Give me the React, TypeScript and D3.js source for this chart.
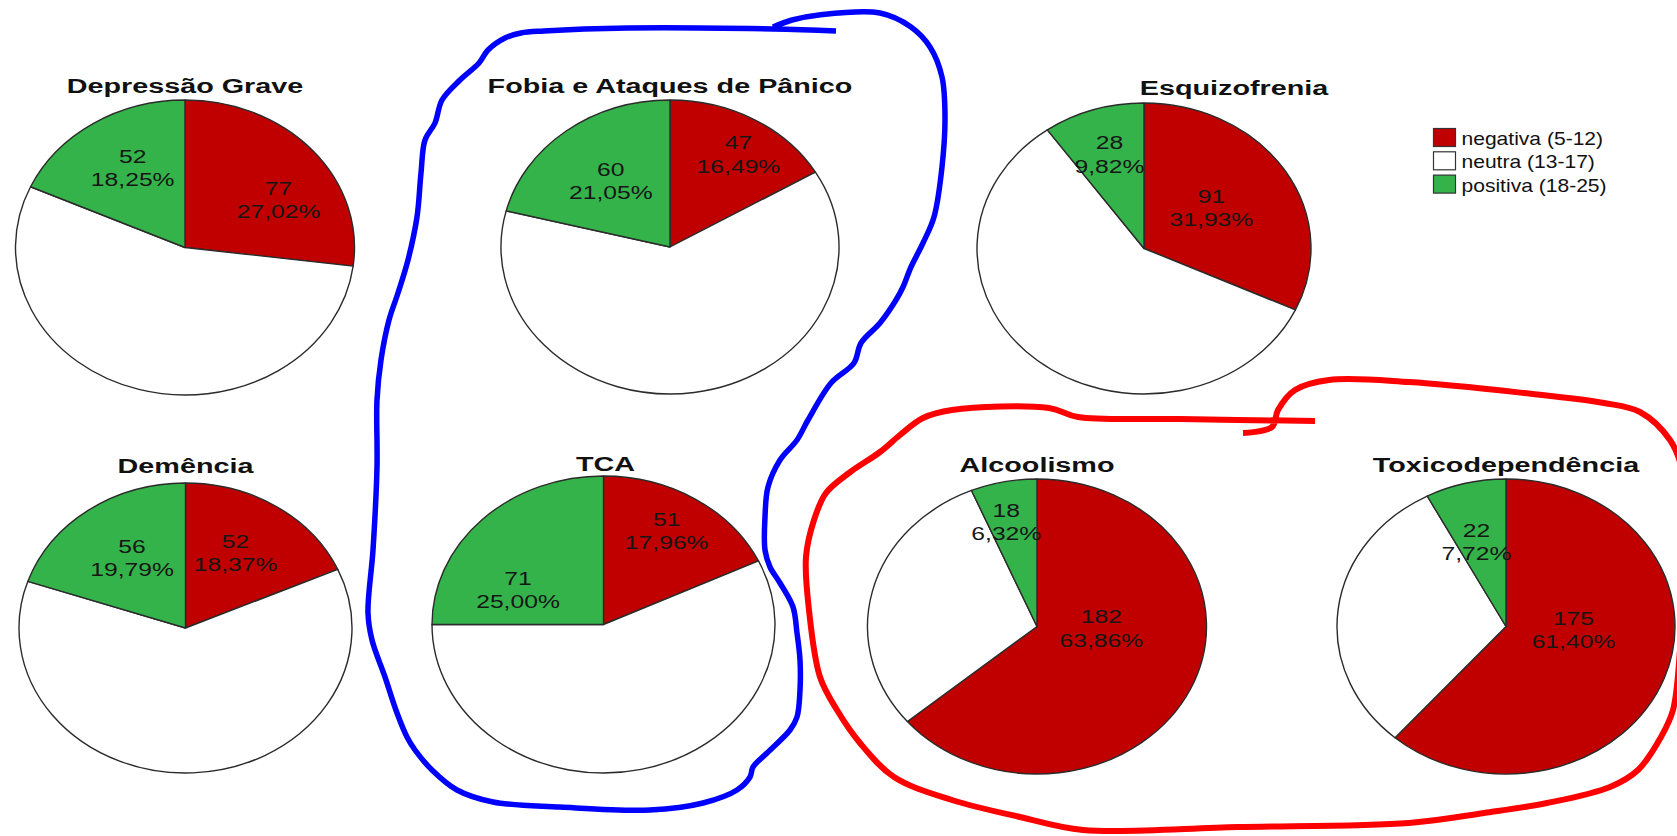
import React from 'react';
import * as d3 from 'd3';

// ---------- data ----------
const categories = ['negativa (5-12)', 'neutra (13-17)', 'positiva (18-25)'];
const sliceColors = ['#c00000', '#ffffff', '#34b34a'];
const titles = ['Depressão Grave', 'Fobia e Ataques de Pânico', 'Esquizofrenia', 'Demência', 'TCA', 'Alcoolismo', 'Toxicodependência'];
const negativa = [77, 47, 91, 52, 51, 182, 175];
const neutra = [156, 178, 166, 175, 162, 85, 88];
const positiva = [52, 60, 28, 56, 71, 18, 22];

// ---------- layout (not data) ----------
const pieCx = [185, 670, 1144, 185.5, 603.5, 1037, 1506];
const pieCy = [247.5, 247, 248.5, 628, 624.5, 626.5, 626.5];
const pieRx = [169.5, 169, 167, 166.5, 171.5, 169.5, 169];
const pieRy = [147.5, 147, 145.5, 145, 148.5, 147.5, 147.5];
const titleShift = [0, 0, 90, 0, 2, 0, 0];
const titleBase = [93, 93, 95, 473, 471, 472, 472];
const labelRadiusNeg = [0.64, 0.75, 0.49, 0.6, 0.73, 0.38, 0.4];
const labelTurnNeg = [11, 3, -2, -3, -2, -23, -17];
const labelRadiusPos = [0.62, 0.57, 0.68, 0.58, 0.55, 0.73, 0.6];
const labelTurnPos = [3, 0, 0, 2, -20, -3, -3];

// hand-drawn annotation loops (decoration)
const blueLoop: [number, number][] = [
  [836, 31], [773, 29], [628, 28], [544, 31], [521, 33], [505, 38], [488, 50], [479, 63], [460, 80], [442, 100],
  [435, 123], [425, 140], [421, 173], [417, 217], [408, 260], [398, 293], [389, 320], [381, 360], [377, 400],
  [377, 467], [373, 550], [368, 613], [372, 640], [385, 677], [397, 713], [407, 737], [415, 750], [432, 770],
  [457, 790], [493, 802], [560, 807], [650, 810], [703, 803], [737, 790], [750, 777], [753, 767], [767, 753],
  [790, 730], [797, 717], [800, 690], [800, 660], [797, 633], [793, 607], [780, 583], [770, 567], [765, 550],
  [765, 517], [768, 487], [780, 460], [797, 440], [808, 420], [831, 383], [854, 363], [861, 343], [880, 323],
  [896, 300], [903, 287], [911, 267], [923, 243], [934, 217], [942, 167], [945, 117], [942, 77], [930, 47],
  [911, 27], [880, 13], [819, 15], [792, 20], [773, 27],
];
const redLoop: [number, number][] = [
  [1315, 421], [1180, 419], [1078, 417], [1049, 408], [952, 410], [923, 418], [900, 435], [880, 452], [849, 473],
  [826, 493], [814, 520], [806, 557], [809, 610], [820, 677], [837, 710], [860, 743], [894, 777], [952, 800],
  [1020, 817], [1083, 830], [1238, 827], [1409, 823], [1484, 813], [1547, 803], [1610, 787], [1638, 770],
  [1661, 737], [1673, 710], [1680, 650], [1685, 550], [1682, 470], [1670, 440], [1640, 412], [1604, 403],
  [1524, 393], [1409, 382], [1329, 380], [1295, 390], [1278, 410], [1272, 427], [1243, 433],
];

const FONT = '"Liberation Sans", Arial, Helvetica, sans-serif';
const R = 100;

const fmtPct = (v: number) => d3.format('.2f')(v).replace('.', ',') + '%';

function Pie({ i }: { i: number }) {
  const values = [negativa[i], neutra[i], positiva[i]];
  const total = d3.sum(values);
  const arcs = d3.pie<number>().sort(null).value((d) => d)(values);
  const arcGen = d3.arc<d3.PieArcDatum<number>>().innerRadius(0).outerRadius(R);
  const cx = pieCx[i], cy = pieCy[i], rx = pieRx[i], ry = pieRy[i];

  const labels = [
    { a: arcs[0], r: labelRadiusNeg[i], turn: labelTurnNeg[i], v: values[0] },
    { a: arcs[2], r: labelRadiusPos[i], turn: labelTurnPos[i], v: values[2] },
  ];

  return (
    <g>
      <g transform={`translate(${cx},${cy}) scale(${rx / R},${ry / R})`}>
        {arcs.map((a, k) => (
          <path
            key={k}
            d={arcGen(a) || ''}
            fill={sliceColors[k]}
            stroke="#2b2b2b"
            strokeWidth={1.4}
            vectorEffect="non-scaling-stroke"
            strokeLinejoin="round"
          />
        ))}
      </g>
      {labels.map((l, k) => {
        const ang = (l.a.startAngle + l.a.endAngle) / 2 + (l.turn * Math.PI) / 180;
        const x = cx + l.r * rx * Math.sin(ang);
        const y = cy - l.r * ry * Math.cos(ang);
        return (
          <g key={k} transform={`translate(${x},${y}) scale(1.3,1)`}>
            <text x={0} y={-5} textAnchor="middle" fontFamily={FONT} fontSize={19} fill="#161616">
              {l.v}
            </text>
            <text x={0} y={18.3} textAnchor="middle" fontFamily={FONT} fontSize={19} fill="#161616">
              {fmtPct((l.v / total) * 100)}
            </text>
          </g>
        );
      })}
      <g transform={`translate(${cx + titleShift[i]},${titleBase[i]}) scale(1.37,1)`}>
        <text x={0} y={0} textAnchor="middle" fontFamily={FONT} fontWeight="bold" fontSize={21} fill="#111">
          {titles[i]}
        </text>
      </g>
    </g>
  );
}

export default function App() {
  const line = d3.line().curve(d3.curveCatmullRom.alpha(0.5));
  return (
    <svg
      width={1677}
      height={836}
      style={{ position: 'absolute', left: 0, top: 0, background: '#fff', display: 'block' }}
    >
      <rect x={0} y={0} width={1677} height={836} fill="#fff" />
      {titles.map((_, i) => (
        <Pie key={i} i={i} />
      ))}
      {/* legend */}
      <g>
        {categories.map((c, k) => (
          <g key={c}>
            <rect x={1433.5} y={128.5 + k * 23.3} width={22} height={18} fill={sliceColors[k]} stroke="#333" strokeWidth={1.2} />
            <g transform={`translate(1461.5,${145 + k * 23.3}) scale(1.17,1)`}>
              <text x={0} y={0} fontFamily={FONT} fontSize={18} fill="#111">
                {c}
              </text>
            </g>
          </g>
        ))}
      </g>
      {/* hand-drawn annotations */}
      <path d={line(blueLoop) || ''} fill="none" stroke="#0000ff" strokeWidth={5.5} strokeLinecap="butt" strokeLinejoin="round" />
      <path d={line(redLoop) || ''} fill="none" stroke="#ff0000" strokeWidth={6} strokeLinecap="butt" strokeLinejoin="round" />
    </svg>
  );
}
